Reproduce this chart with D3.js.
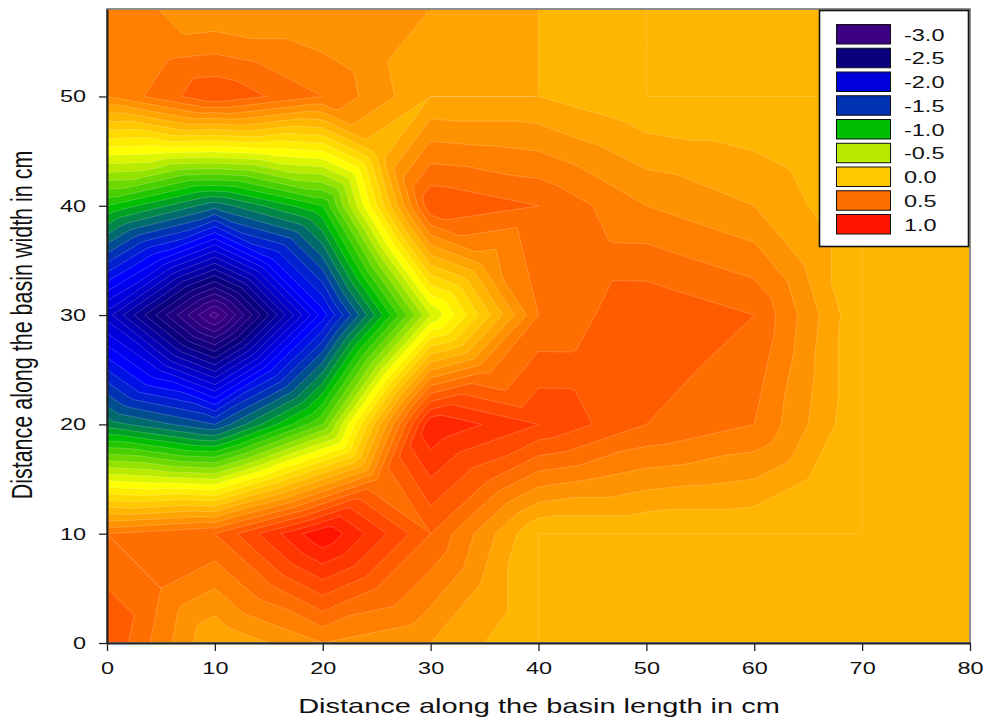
<!DOCTYPE html>
<html>
<head>
<meta charset="utf-8">
<script src="https://cdnjs.cloudflare.com/ajax/libs/d3/7.8.5/d3.min.js"></script>
<style>
  body { margin: 0; background: #fff; }
  text { font-family: "Liberation Sans", Arial, sans-serif; fill: #111; }
</style>
</head>
<body>
<script>
  // positions along the basin, in cm
  var xCm = [0, 10, 20, 30, 40, 50, 60, 70, 80];
  var yCm = [0, 10, 20, 30, 40, 50, 58];

  // values, one list per row of the grid
  var row0 = [0.7, 0.2, 0.4, 0.3, 0.1, 0.1, 0.1, 0.1, 0.1];
  var row10 = [0.5, 0.6, 1.09, 0.6, 0.1, 0.1, 0.1, 0.1, 0.1];
  var row20 = [-1.15, -1.4, -0.7, 0.99, 0.8, 0.6, 0.5, 0.1, 0.1];
  var row30 = [-2.05, -3.05, -1.75, -0.4, 0.5, 0.69, 0.6, 0.1, 0.1];
  var row40 = [-0.9, -1.26, -0.9, 0.69, 0.6, 0.4, 0.3, 0.1, 0.1];
  var row50 = [0.4, 0.69, 0.5, 0.2, 0.2, 0.1, 0.1, 0.1, 0.1];
  var row58 = [0.49, 0.3, 0.3, 0.3, 0.2, 0.1, 0.1, 0.1, 0.1];
  var rows = [row0, row10, row20, row30, row40, row50, row58];

  var legendLevels = [-3.0, -2.5, -2.0, -1.5, -1.0, -0.5, 0.0, 0.5, 1.0];
  var xTicks = [0, 10, 20, 30, 40, 50, 60, 70, 80];
  var yTicks = [0, 10, 20, 30, 40, 50];

  var width = 987, height = 724;
  var margin = { top: 9, left: 107, right: 17, bottom: 81 };

  var svg = d3.select("body").append("svg")
    .attr("width", width)
    .attr("height", height);

  var xScale = d3.scaleLinear().domain([0, 80]).range([margin.left, width - margin.right]);
  var yScale = d3.scaleLinear().domain([0, 58]).range([height - margin.bottom, margin.top]);

  var colorScale = d3.scaleLinear()
    .domain([-3.0, -2.5, -2.0, -1.8, -1.5, -1.0, -0.5, -0.3, 0.0, 0.5, 1.0])
    .range(["#3c0082", "#0a007d", "#0000dc", "#0000ff", "#0032b4", "#00be00", "#b8eb00", "#ffff00", "#ffc800", "#ff6e00", "#ff1400"]);

  // the surface is linear on the four triangles of each grid cell,
  // sampled finely so d3.contours follows those triangles
  var sub = 20;
  function surface(i, j) {
    var ci = Math.min(Math.floor(i), xCm.length - 2);
    var cj = Math.min(Math.floor(j), yCm.length - 2);
    var u = i - ci, v = j - cj;
    var a = rows[cj][ci], b = rows[cj][ci + 1], c = rows[cj + 1][ci], d = rows[cj + 1][ci + 1];
    var m = (a + b + c + d) / 4;
    if (v <= u && v <= 1 - u) return a + (b - a) * u + (2 * m - a - b) * v;
    if (v >= u && v >= 1 - u) return c + (d - c) * u + (2 * m - c - d) * (1 - v);
    if (u <= v) return a + (c - a) * v + (2 * m - a - c) * u;
    return b + (d - b) * v + (2 * m - b - d) * (1 - u);
  }

  var nx = (xCm.length - 1) * sub + 1;
  var ny = (yCm.length - 1) * sub + 1;
  var grid = new Array(nx * ny);
  for (var j = 0; j < ny; j++) {
    for (var i = 0; i < nx; i++) {
      grid[j * nx + i] = surface(i / sub, j / sub);
    }
  }

  var levels = d3.range(-31, 11).map(function(d) { return d / 10; });

  function contoursAt(nudge) {
    return d3.contours()
      .size([nx, ny])
      .thresholds(levels.map(function(d) { return d + nudge; }))(grid);
  }

  var xIndex = d3.scaleLinear().domain(xCm.map(function(d, i) { return i * sub; })).range(xCm).clamp(true);
  var yIndex = d3.scaleLinear().domain(yCm.map(function(d, i) { return i * sub; })).range(yCm).clamp(true);

  var path = d3.geoPath(d3.geoTransform({
    point: function(px, py) {
      this.stream.point(xScale(xIndex(px - 0.5)), yScale(yIndex(py - 0.5)));
    }
  }));

  // fills: a flat part sitting exactly on a level takes the band above it
  svg.append("g")
    .selectAll("path")
    .data(contoursAt(-1e-6))
    .enter()
    .append("path")
    .attr("d", path)
    .attr("fill", function(d, i) { return colorScale(levels[i]); });

  // lines: nudged up, so that flat part still gets its faint edge
  svg.append("g")
    .selectAll("path")
    .data(contoursAt(1e-6))
    .enter()
    .append("path")
    .attr("d", path)
    .attr("fill", "none")
    .attr("stroke", "#fff")
    .attr("stroke-opacity", 0.28)
    .attr("stroke-width", 0.7);

  // plot text is stretched sideways in the original
  var stretch = 1.38;
  function widen(sel) {
    sel.each(function() {
      d3.select(this)
        .attr("textLength", this.getComputedTextLength() * stretch)
        .attr("lengthAdjust", "spacingAndGlyphs");
    });
  }

  // frame
  svg.append("rect")
    .attr("x", xScale(0))
    .attr("y", yScale(58))
    .attr("width", xScale(80) - xScale(0))
    .attr("height", yScale(0) - yScale(58))
    .attr("fill", "none")
    .attr("stroke", "#444")
    .attr("stroke-width", 1.2);

  var xAxis = svg.append("g")
    .attr("transform", `translate(0, ${yScale(0)})`)
    .call(d3.axisBottom(xScale).tickValues(xTicks).tickSize(8).tickSizeOuter(0).tickPadding(11).tickFormat(d3.format("d")));

  var yAxis = svg.append("g")
    .attr("transform", `translate(${xScale(0)}, 0)`)
    .call(d3.axisLeft(yScale).tickValues(yTicks).tickSize(8).tickSizeOuter(0).tickPadding(13).tickFormat(d3.format("d")));

  [xAxis, yAxis].forEach(function(axis) {
    axis.select(".domain").attr("stroke", "#222").attr("stroke-width", 2);
    axis.selectAll(".tick line").attr("stroke", "#222").attr("stroke-width", 1.3);
    axis.selectAll("text").attr("font-size", 17).attr("fill", "#111").call(widen);
  });

  svg.append("text")
    .attr("x", 539)
    .attr("y", 713)
    .attr("text-anchor", "middle")
    .attr("font-size", 21)
    .text("Distance along the basin length in cm")
    .call(widen);

  svg.append("text")
    .attr("transform", `translate(31.5, 325) scale(${stretch}, 1) rotate(-90)`)
    .attr("text-anchor", "middle")
    .attr("font-size", 21.5)
    .text("Distance along the basin width in cm");

  // legend
  var legend = svg.append("g");

  legend.append("rect")
    .attr("x", 819.5)
    .attr("y", 10.5)
    .attr("width", 149)
    .attr("height", 236)
    .attr("fill", "#fff")
    .attr("stroke", "#111")
    .attr("stroke-width", 1.6);

  var legendY = d3.scaleBand()
    .domain(legendLevels)
    .range([24.5, 238.25]);

  legend.selectAll("rect.swatch")
    .data(legendLevels)
    .enter()
    .append("rect")
    .attr("class", "swatch")
    .attr("x", 836.5)
    .attr("y", function(d) { return legendY(d); })
    .attr("width", 54)
    .attr("height", 19.5)
    .attr("fill", function(d) { return colorScale(d); })
    .attr("stroke", "#111")
    .attr("stroke-width", 1);

  legend.selectAll("text")
    .data(legendLevels)
    .enter()
    .append("text")
    .attr("x", 904)
    .attr("y", function(d) { return legendY(d) + 16; })
    .attr("font-size", 17)
    .text(function(d) { return d3.format(".1f")(d).replace("\u2212", "-"); })
    .call(widen);
</script>
</body>
</html>
